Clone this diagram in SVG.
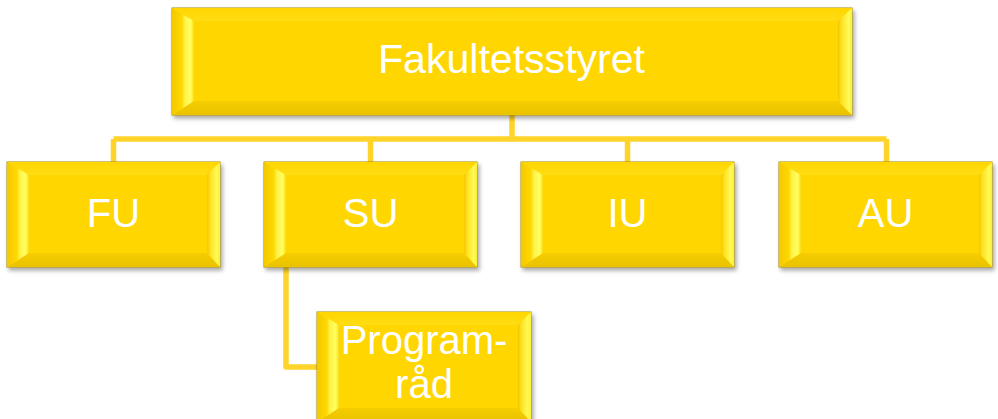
<svg xmlns="http://www.w3.org/2000/svg" width="998" height="419" viewBox="0 0 998 419">
<defs>
<filter id="sh" x="-5%" y="-5%" width="112%" height="120%">
<feDropShadow dx="2" dy="3" stdDeviation="2" flood-color="#000" flood-opacity="0.35"/>
</filter>
<linearGradient id="gL" x1="0" y1="0" x2="1" y2="0">
<stop offset="0" stop-color="#F2C900"/>
<stop offset="0.45" stop-color="#FFD800"/>
<stop offset="0.58" stop-color="#FFF24A"/>
<stop offset="0.85" stop-color="#FFFF5E"/>
<stop offset="1" stop-color="#F8DC18"/>
</linearGradient>
<linearGradient id="gR" x1="0" y1="0" x2="1" y2="0">
<stop offset="0" stop-color="#F0C800"/>
<stop offset="0.25" stop-color="#FFE020"/>
<stop offset="0.75" stop-color="#FFFB58"/>
<stop offset="1" stop-color="#FFEE30"/>
</linearGradient>
<linearGradient id="gT" x1="0" y1="0" x2="0" y2="1">
<stop offset="0" stop-color="#FFD600"/>
<stop offset="1" stop-color="#FFDD14"/>
</linearGradient>
<linearGradient id="gB" x1="0" y1="0" x2="0" y2="1">
<stop offset="0" stop-color="#F5CD00"/>
<stop offset="1" stop-color="#EAC200"/>
</linearGradient>
</defs>
<style>
.face{fill:#FFD500;stroke:#A68C00;stroke-width:1;filter:url(#sh)}
.bl{fill:url(#gL)}
.br{fill:url(#gR)}
.bt{fill:url(#gT)}
.bb{fill:url(#gB)}
.in{fill:#FFD600}
.lbl{font-family:"Liberation Sans",Arial,sans-serif;font-size:40px;fill:#FFFFFF;text-anchor:middle}
.con{fill:none;stroke:#FFD42A;stroke-width:5.5;stroke-linejoin:round}
</style>
<g id="connectors">
<path class="con" d="M512,114 V139 M113.5,139 H886.5 M113.5,139 V163 M370.5,139 V163 M627.5,139 V163 M886.5,139 V163"/>
<path class="con" d="M286,266 V367 H318"/>
</g>
<g id="node-fakultetsstyret">
<rect class="face" x="172" y="8" width="680" height="107"/>
<polygon class="bt" points="172,8 852,8 838,21 194,21"/>
<polygon class="bb" points="172,115 852,115 838,101 194,101"/>
<polygon class="bl" points="172,8 194,21 194,101 172,115"/>
<polygon class="br" points="852,8 838,21 838,101 852,115"/>
<rect class="in" x="194" y="21" width="644" height="80"/>
<text class="lbl" x="511.5" y="73" textLength="267" lengthAdjust="spacingAndGlyphs">Fakultetsstyret</text>
</g>
<g id="node-fu">
<rect class="face" x="7" y="162" width="213" height="105"/>
<polygon class="bt" points="7,162 220,162 207,175 29,175"/>
<polygon class="bb" points="7,267 220,267 207,253 29,253"/>
<polygon class="bl" points="7,162 29,175 29,253 7,267"/>
<polygon class="br" points="220,162 207,175 207,253 220,267"/>
<rect class="in" x="29" y="175" width="178" height="78"/>
<text class="lbl" x="113.5" y="227">FU</text>
</g>
<g id="node-su">
<rect class="face" x="264" y="162" width="213" height="105"/>
<polygon class="bt" points="264,162 477,162 464,175 286,175"/>
<polygon class="bb" points="264,267 477,267 464,253 286,253"/>
<polygon class="bl" points="264,162 286,175 286,253 264,267"/>
<polygon class="br" points="477,162 464,175 464,253 477,267"/>
<rect class="in" x="286" y="175" width="178" height="78"/>
<text class="lbl" x="370.5" y="227">SU</text>
</g>
<g id="node-iu">
<rect class="face" x="521" y="162" width="213" height="105"/>
<polygon class="bt" points="521,162 734,162 721,175 543,175"/>
<polygon class="bb" points="521,267 734,267 721,253 543,253"/>
<polygon class="bl" points="521,162 543,175 543,253 521,267"/>
<polygon class="br" points="734,162 721,175 721,253 734,267"/>
<rect class="in" x="543" y="175" width="178" height="78"/>
<text class="lbl" x="627.5" y="227">IU</text>
</g>
<g id="node-au">
<rect class="face" x="779" y="162" width="213" height="105"/>
<polygon class="bt" points="779,162 992,162 979,175 801,175"/>
<polygon class="bb" points="779,267 992,267 979,253 801,253"/>
<polygon class="bl" points="779,162 801,175 801,253 779,267"/>
<polygon class="br" points="992,162 979,175 979,253 992,267"/>
<rect class="in" x="801" y="175" width="178" height="78"/>
<text class="lbl" x="885.5" y="227">AU</text>
</g>
<g id="node-programrad">
<rect class="face" x="317" y="312" width="214" height="110"/>
<polygon class="bt" points="317,312 531,312 518,325 339,325"/>
<polygon class="bb" points="317,422 531,422 518,408 339,408"/>
<polygon class="bl" points="317,312 339,325 339,408 317,422"/>
<polygon class="br" points="531,312 518,325 518,408 531,422"/>
<rect class="in" x="339" y="325" width="179" height="83"/>
<text class="lbl" x="424" y="354">Program-</text>
<text class="lbl" x="424" y="398">råd</text>
</g>
</svg>
